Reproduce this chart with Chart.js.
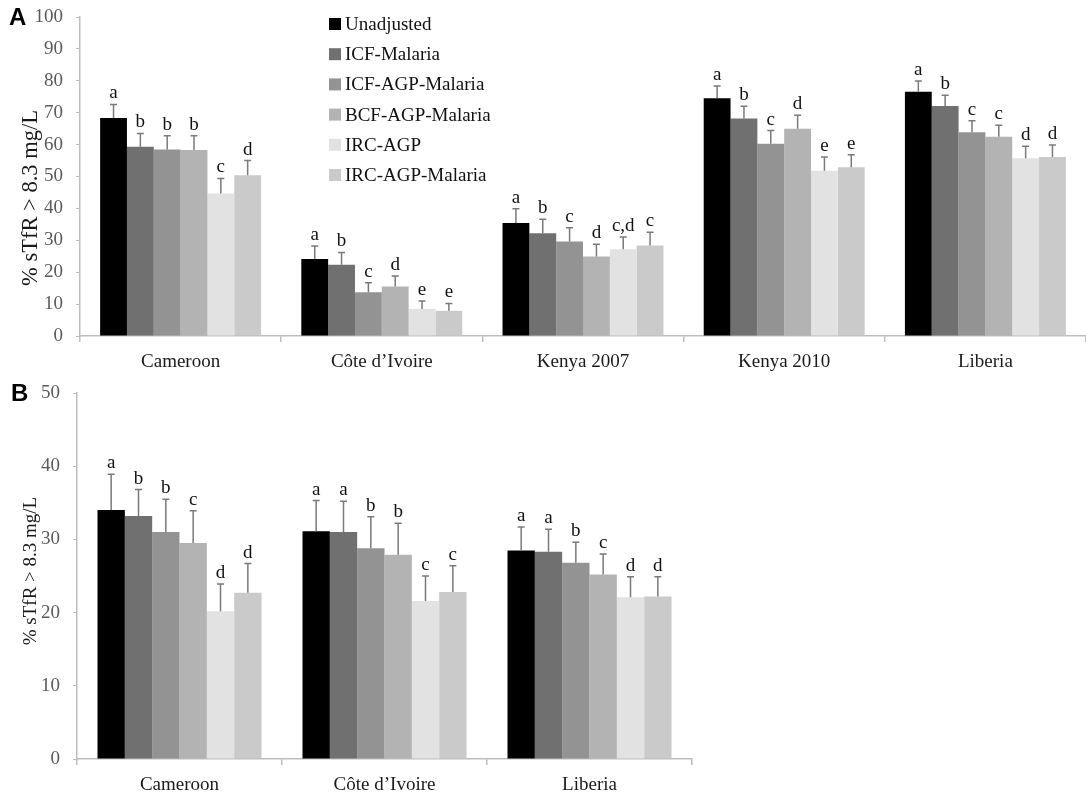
<!DOCTYPE html>
<html><head><meta charset="utf-8">
<script src="https://cdn.jsdelivr.net/npm/chart.js@4"></script>
<style>
html,body{margin:0;padding:0;background:#fff;width:1086px;height:792px;overflow:hidden}
#a{position:absolute;left:0;top:0;width:1086px;height:380px}
#b{position:absolute;left:0;top:378px;width:1086px;height:414px}
</style></head><body>
<div id="a"><canvas id="ca"></canvas></div>
<div id="b"><canvas id="cb"></canvas></div>
<script>
const seriesNames = ['Unadjusted','ICF-Malaria','ICF-AGP-Malaria','BCF-AGP-Malaria','IRC-AGP','IRC-AGP-Malaria'];
const seriesColors = ['#000000','#707070','#939393','#b3b3b3','#e2e2e2','#cacaca'];

const categoriesA = ['Cameroon','Côte d’Ivoire','Kenya 2007','Kenya 2010','Liberia'];
const unadjustedA = [68.3, 24.1, 35.4, 74.5, 76.6];
const icfMalariaA = [59.3, 22.3, 32.2, 68.2, 72.1];
const icfAgpMalariaA = [58.5, 13.7, 29.6, 60.3, 63.9];
const bcfAgpMalariaA = [58.3, 15.5, 24.9, 65.0, 62.5];
const ircAgpA = [44.7, 8.5, 27.2, 51.8, 55.7];
const ircAgpMalariaA = [50.4, 7.9, 28.4, 52.9, 56.1];
const upperA = [
  [72.6, 28.2, 39.9, 78.4, 79.9],
  [63.5, 26.2, 36.6, 72.0, 75.5],
  [62.8, 16.7, 33.9, 64.4, 67.5],
  [62.8, 18.8, 28.8, 69.2, 66.1],
  [49.4, 11.0, 31.0, 56.1, 59.5],
  [55.0, 10.2, 32.5, 56.8, 59.9]
];
const lettersA = [
  ['a','a','a','a','a'],
  ['b','b','b','b','b'],
  ['b','c','c','c','c'],
  ['b','d','d','d','c'],
  ['c','e','c,d','e','d'],
  ['d','e','c','e','d']
];
const ticksA = {min:0, max:100, step:10};

const categoriesB = ['Cameroon','Côte d’Ivoire','Liberia'];
const unadjustedB = [34.0, 31.1, 28.5];
const icfMalariaB = [33.2, 31.0, 28.3];
const icfAgpMalariaB = [31.0, 28.8, 26.8];
const bcfAgpMalariaB = [29.5, 27.9, 25.2];
const ircAgpB = [20.2, 21.6, 22.1];
const ircAgpMalariaB = [22.7, 22.8, 22.2];
const upperB = [
  [38.9, 35.3, 31.7],
  [36.8, 35.2, 31.4],
  [35.5, 33.1, 29.6],
  [33.9, 32.2, 28.0],
  [23.9, 25.0, 24.9],
  [26.7, 26.4, 24.9]
];
const lettersB = [
  ['a','a','a'],
  ['b','a','a'],
  ['b','b','b'],
  ['c','b','c'],
  ['d','c','d'],
  ['d','c','d']
];
const ticksB = {min:0, max:50, step:10};

const yTitle = '% sTfR > 8.3 mg/L';
const SERIF = '"Liberation Serif", "Times New Roman", serif';

const errorLetterPlugin = {
  id:'errLetters',
  afterDatasetsDraw(chart){
    const ctx = chart.ctx, y = chart.scales.y;
    chart.data.datasets.forEach((ds, di) => {
      const meta = chart.getDatasetMeta(di);
      meta.data.forEach((bar, i) => {
        const yTop = y.getPixelForValue(ds.data[i]);
        const yUp = y.getPixelForValue(ds.upper[i]);
        ctx.save();
        ctx.strokeStyle = '#7a7a7a';
        ctx.lineWidth = 1.5;
        ctx.beginPath();
        ctx.moveTo(bar.x, yTop);
        ctx.lineTo(bar.x, yUp);
        ctx.moveTo(bar.x - 3.5, yUp);
        ctx.lineTo(bar.x + 3.5, yUp);
        ctx.stroke();
        ctx.fillStyle = '#111';
        ctx.font = '19px ' + SERIF;
        ctx.textAlign = 'center';
        ctx.textBaseline = 'alphabetic';
        ctx.fillText(ds.letters[i], bar.x, yUp - 6);
        ctx.restore();
      });
    });
  }
};

const decorPlugin = {
  id:'decor',
  afterDraw(chart, args, opts){
    const ctx = chart.ctx;
    ctx.save();
    ctx.fillStyle = '#000';
    ctx.font = 'bold ' + opts.panelSize + 'px "Liberation Sans", Arial, sans-serif';
    ctx.textAlign = 'left';
    ctx.textBaseline = 'middle';
    ctx.fillText(opts.panel, opts.panelX, opts.panelY);
    ctx.translate(opts.titleX, opts.titleY);
    ctx.rotate(-Math.PI/2);
    ctx.fillStyle = '#1a1a1a';
    ctx.font = opts.titleSize + 'px ' + SERIF;
    ctx.textAlign = 'center';
    ctx.textBaseline = 'middle';
    ctx.fillText(yTitle, 0, 0);
    ctx.restore();
    if (opts.legend) {
      ctx.save();
      ctx.font = '19px ' + SERIF;
      ctx.textBaseline = 'middle';
      ctx.textAlign = 'left';
      chart.data.datasets.forEach((ds, i) => {
        const cy = opts.legendY + i * opts.legendGap;
        ctx.fillStyle = ds.backgroundColor;
        ctx.fillRect(opts.legendX, cy - 6, 12, 12);
        ctx.fillStyle = '#111';
        ctx.fillText(ds.label, opts.legendX + 16, cy + 1);
      });
      ctx.restore();
    }
  }
};

function makeChart(el, cats, series, uppers, letters, tk, cfg) {
  return new Chart(el, {
    type:'bar',
    data:{
      labels:cats,
      datasets: seriesNames.map((n, i) => ({
        label:n, data:series[i], upper:uppers[i], letters:letters[i],
        backgroundColor:seriesColors[i], borderWidth:0,
        categoryPercentage:0.8, barPercentage:1.0
      }))
    },
    options:{
      responsive:true, maintainAspectRatio:false, animation:false,
      layout:{padding:{left:0, right:cfg.right, top:cfg.top, bottom:0}},
      plugins:{legend:{display:false}, tooltip:{enabled:false}, decor:cfg.decor},
      scales:{
        x:{
          grid:{display:true, drawOnChartArea:false, drawTicks:true, tickLength:6, color:'#bdbdbd', offset:true, lineWidth:1.5},
          border:{display:true, color:'#bdbdbd', width:1.5},
          ticks:{color:'#1a1a1a', font:{family:SERIF, size:19}, padding:9, maxRotation:0},
          afterFit:s => { s.height = cfg.xh; s.paddingLeft = 0; s.paddingRight = 0; }
        },
        y:{
          min:tk.min, max:tk.max,
          ticks:{stepSize:tk.step, color:'#5a5a5a', font:{family:SERIF, size:19}, padding:13},
          grid:{display:true, drawOnChartArea:false, drawTicks:true, tickLength:4, color:'#bdbdbd'},
          border:{display:true, color:'#bdbdbd', width:1.5},
          afterFit:s => { s.width = cfg.yw; s.paddingTop = 0; s.paddingBottom = 0; }
        }
      }
    },
    plugins:[errorLetterPlugin, decorPlugin]
  });
}

makeChart(document.getElementById('ca'), categoriesA,
  [unadjustedA, icfMalariaA, icfAgpMalariaA, bcfAgpMalariaA, ircAgpA, ircAgpMalariaA],
  upperA, lettersA, ticksA,
  {right:0, top:17, xh:44, yw:80,
   decor:{panel:'A', panelX:9, panelY:18, panelSize:24, titleX:31, titleY:198, titleSize:22.5,
          legend:true, legendX:329, legendY:24, legendGap:30.2}});

makeChart(document.getElementById('cb'), categoriesB,
  [unadjustedB, icfMalariaB, icfAgpMalariaB, bcfAgpMalariaB, ircAgpB, ircAgpMalariaB],
  upperB, lettersB, ticksB,
  {right:394, top:15, xh:33, yw:77,
   decor:{panel:'B', panelX:11, panelY:16, panelSize:24, titleX:31, titleY:193, titleSize:19, legend:false}});
</script>
</body></html>
